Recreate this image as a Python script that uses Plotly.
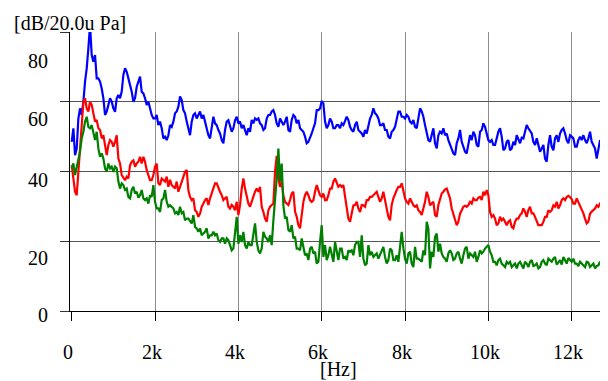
import plotly.graph_objects as go

# Frequency grid of the spectrum (Hz), 40 Hz bins
FREQ = list(range(0, 12921, 40))

# Levels (dB re 20 uPa)
BLUE = [
    48.5, 52.4, 44.7, 46.6, 55.2, 58.1, 56.2, 60.0, 65.8, 69.6, 75.3, 82.0, 73.4, 71.5, 73.4, 66.7, 66.7, 65.8, 63.8, 61.0, 56.2, 57.2, 59.1, 61.0, 60.0, 58.1, 57.1, 61.0, 61.9, 61.0, 62.9, 67.7, 69.6, 68.6, 66.7, 64.8, 62.9, 60.0, 61.0, 64.3, 65.8, 67.2, 62.9, 62.4, 61.0, 59.1, 60.0, 57.6, 56.2, 55.2, 55.2, 56.2, 53.3, 54.3,
    52.4, 49.5, 50.0, 49.0, 50.4, 53.3, 52.8, 54.3, 56.7, 57.2, 58.6, 61.5, 60.5, 57.6, 56.7, 54.3, 51.9, 50.4, 54.3, 56.2, 56.7, 55.2, 56.2, 57.2, 55.2, 56.2, 54.3, 52.4, 50.4, 49.5, 53.3, 55.7, 53.8, 53.3, 51.9, 50.9, 49.0, 48.1, 51.9, 54.3, 54.7, 53.3, 51.4, 52.4, 54.7, 55.7, 53.8, 54.3, 52.4, 53.3, 51.9, 50.4, 52.4, 51.4,
    54.8, 53.8, 55.2, 54.8, 55.2, 53.8, 53.3, 51.9, 52.4, 55.2, 56.2, 56.2, 57.2, 57.6, 56.2, 53.8, 52.8, 55.2, 54.3, 53.3, 54.3, 55.7, 51.9, 51.4, 54.8, 56.2, 55.7, 53.8, 54.8, 52.4, 51.9, 51.4, 50.0, 48.1, 48.5, 49.5, 50.9, 52.4, 53.8, 57.6, 57.6, 58.1, 60.2, 59.5, 54.3, 52.4, 53.3, 55.2, 54.3, 52.4, 52.4, 53.3, 53.3, 52.4,
    53.8, 53.3, 54.3, 55.7, 54.8, 52.8, 51.9, 51.4, 53.3, 54.3, 51.9, 51.4, 50.9, 50.0, 51.9, 50.9, 53.3, 55.2, 56.2, 58.1, 56.7, 56.2, 55.2, 53.3, 53.3, 53.8, 51.9, 51.9, 50.0, 49.5, 51.4, 51.9, 52.8, 55.2, 57.2, 57.2, 55.7, 55.7, 55.2, 56.2, 55.7, 54.3, 53.8, 54.8, 52.8, 52.4, 55.2, 58.1, 57.2, 55.7, 53.3, 51.4, 49.0, 48.5,
    50.9, 52.4, 48.1, 46.6, 50.4, 51.4, 50.9, 52.4, 50.4, 50.9, 49.0, 47.6, 46.1, 45.2, 44.7, 48.1, 49.5, 51.9, 48.5, 47.1, 45.7, 45.2, 48.5, 50.4, 49.0, 51.4, 50.4, 47.6, 47.1, 51.4, 51.9, 53.8, 52.8, 50.4, 49.0, 48.5, 49.0, 47.6, 47.6, 49.5, 51.4, 52.4, 50.0, 46.1, 46.6, 48.5, 49.0, 46.1, 46.6, 48.5, 47.6, 50.4, 49.3, 48.1,
    49.7, 49.5, 51.4, 53.3, 52.4, 51.4, 50.9, 48.5, 47.6, 49.5, 47.6, 45.7, 46.6, 47.6, 43.7, 42.8, 47.6, 50.4, 47.1, 46.1, 49.5, 50.4, 48.5, 50.9, 51.9, 52.4, 50.9, 49.0, 48.1, 50.4, 50.0, 49.5, 47.1, 47.1, 49.0, 50.0, 49.0, 50.4, 49.0, 48.1, 49.5, 51.4, 48.5, 47.6, 46.6, 43.7, 47.1, 49.0, 48.1, 46.6, 46.1, 47.6, 46.6, 46.1,
]
RED = [
    41.8, 38.0, 34.2, 33.2, 39.9, 47.1, 53.3, 60.0, 61.0, 58.1, 57.2, 60.0, 59.1, 56.7, 54.3, 54.8, 52.4, 51.9, 49.5, 50.4, 47.6, 44.7, 47.6, 49.0, 48.5, 47.1, 48.5, 50.4, 43.7, 42.3, 39.0, 38.0, 37.5, 38.5, 38.0, 41.8, 42.8, 43.2, 41.4, 42.3, 42.8, 44.2, 42.3, 44.2, 42.8, 40.4, 39.0, 37.5, 37.5, 39.0, 41.4, 42.3, 36.6, 36.1,
    38.0, 37.5, 37.1, 38.5, 35.6, 37.6, 36.1, 35.6, 35.1, 37.1, 34.2, 35.6, 37.1, 38.5, 39.9, 40.4, 34.6, 32.7, 31.8, 32.3, 28.9, 28.4, 27.0, 27.9, 29.9, 30.8, 31.8, 32.3, 30.4, 32.3, 33.7, 35.6, 36.6, 36.6, 35.1, 34.2, 33.2, 31.8, 32.3, 32.7, 29.9, 29.4, 30.4, 29.9, 28.9, 31.3, 27.5, 30.4, 35.1, 38.0, 35.1, 33.2, 30.8, 29.9,
    31.3, 33.2, 34.2, 35.1, 34.2, 35.6, 29.9, 28.4, 26.5, 25.6, 28.9, 29.9, 30.4, 30.8, 40.0, 44.5, 38.0, 35.6, 37.1, 33.2, 31.3, 30.8, 30.4, 31.8, 33.7, 34.2, 28.5, 27.0, 24.6, 23.7, 28.5, 31.3, 33.2, 34.2, 33.2, 31.8, 31.3, 31.8, 34.2, 36.1, 34.6, 33.2, 32.7, 33.7, 31.8, 31.8, 33.2, 35.1, 35.1, 37.1, 38.0, 36.6, 35.6, 36.1,
    35.6, 36.1, 32.7, 29.4, 26.5, 25.6, 28.5, 30.3, 30.4, 31.3, 29.4, 28.4, 30.4, 30.3, 29.9, 31.8, 31.8, 32.7, 32.7, 33.2, 33.7, 34.2, 32.7, 31.3, 32.3, 34.2, 31.8, 29.4, 27.0, 26.0, 30.4, 32.3, 33.7, 34.7, 35.6, 35.6, 36.6, 34.2, 32.3, 31.3, 30.8, 32.3, 31.3, 30.3, 29.9, 30.3, 28.9, 28.4, 27.5, 29.4, 31.3, 34.2, 32.7, 30.3,
    30.8, 31.3, 27.5, 27.0, 30.4, 32.3, 33.7, 34.2, 34.9, 35.1, 33.7, 32.3, 29.4, 28.0, 26.5, 24.6, 25.6, 27.9, 28.9, 29.9, 30.2, 29.9, 30.4, 31.3, 30.8, 32.3, 31.8, 31.8, 32.5, 32.7, 31.8, 34.2, 33.2, 34.7, 33.2, 28.4, 27.0, 27.5, 26.5, 24.6, 25.1, 27.0, 26.0, 26.5, 25.6, 24.6, 25.6, 26.0, 24.1, 23.7, 25.6, 26.5, 26.5, 27.5,
    28.0, 29.4, 28.5, 27.0, 28.9, 29.9, 28.0, 28.0, 27.0, 26.0, 24.6, 24.6, 24.6, 25.6, 27.0, 27.0, 28.9, 28.4, 28.9, 30.3, 29.9, 31.3, 29.4, 30.3, 31.8, 32.3, 31.8, 32.7, 33.0, 32.7, 32.1, 30.8, 30.8, 32.3, 31.3, 29.9, 28.9, 28.0, 26.5, 25.1, 25.6, 27.9, 28.5, 28.9, 29.4, 30.3, 29.9, 30.8, 30.5, 30.3, 30.2, 31.3, 30.8, 30.8,
]
GREEN = [
    40.9, 42.3, 39.0, 41.4, 43.7, 45.7, 49.5, 51.4, 54.3, 55.7, 52.8, 52.4, 53.3, 50.9, 49.0, 51.4, 46.6, 44.2, 45.2, 43.7, 40.9, 39.9, 42.3, 40.9, 41.4, 39.9, 41.4, 40.9, 37.1, 35.1, 36.6, 36.1, 34.7, 35.1, 32.7, 32.3, 34.7, 35.6, 33.7, 34.2, 32.5, 33.2, 34.7, 32.3, 31.8, 32.3, 30.8, 33.2, 32.7, 36.1, 31.3, 29.4, 29.4, 28.4,
    31.8, 32.3, 34.7, 31.3, 29.9, 30.3, 29.9, 29.4, 28.0, 28.4, 27.5, 29.9, 28.0, 28.4, 26.0, 26.5, 26.5, 25.6, 25.1, 27.5, 24.1, 23.7, 22.7, 23.7, 21.7, 22.2, 22.7, 23.7, 20.8, 21.7, 21.7, 22.7, 21.7, 22.2, 20.3, 19.8, 20.8, 20.8, 19.3, 20.8, 20.3, 18.9, 17.4, 17.9, 23.6, 27.0, 19.3, 21.7, 19.8, 22.7, 18.9, 17.9, 19.8, 18.9,
    18.9, 21.7, 25.1, 19.8, 17.4, 16.5, 17.9, 22.7, 21.3, 20.8, 19.8, 21.7, 18.9, 26.0, 31.3, 38.0, 46.6, 37.1, 42.3, 30.3, 26.5, 27.0, 23.2, 22.7, 24.6, 20.8, 21.3, 17.9, 17.9, 17.4, 20.8, 17.9, 16.0, 16.5, 14.6, 17.9, 18.4, 16.5, 17.0, 13.6, 14.1, 19.8, 24.6, 15.5, 18.9, 14.6, 16.0, 18.4, 16.5, 14.1, 19.8, 17.4, 14.6, 17.9,
    17.9, 15.0, 15.5, 14.6, 17.4, 17.0, 17.4, 16.0, 18.9, 19.8, 19.8, 15.5, 21.7, 15.0, 13.1, 13.6, 18.9, 16.0, 17.0, 15.5, 16.0, 16.5, 15.0, 16.0, 17.0, 18.4, 15.5, 13.6, 14.6, 17.9, 17.4, 14.6, 14.6, 16.0, 14.1, 17.9, 22.7, 18.0, 15.0, 13.6, 16.5, 17.0, 13.6, 12.6, 18.4, 15.0, 15.0, 14.6, 14.1, 17.4, 16.0, 25.6, 23.6, 12.2,
    17.0, 15.5, 21.3, 22.2, 17.0, 19.3, 16.5, 15.5, 15.0, 14.1, 16.5, 17.4, 16.5, 14.6, 15.0, 16.5, 17.0, 15.0, 13.6, 16.0, 17.9, 18.4, 15.0, 16.5, 16.0, 15.5, 17.0, 14.1, 15.5, 17.4, 16.5, 17.0, 17.9, 18.4, 18.9, 17.0, 16.0, 14.1, 14.1, 13.1, 14.6, 15.0, 13.6, 13.1, 12.6, 14.1, 13.6, 14.1, 12.6, 13.1, 13.6, 12.2, 13.6, 14.1,
    13.1, 12.2, 14.1, 13.6, 12.6, 14.1, 14.6, 12.9, 13.1, 13.6, 12.2, 12.6, 14.1, 14.6, 13.6, 13.1, 15.0, 14.6, 14.1, 15.0, 15.5, 13.3, 14.1, 14.6, 13.3, 15.5, 14.6, 13.6, 15.2, 14.6, 14.1, 15.0, 13.6, 13.6, 12.9, 14.1, 13.6, 13.1, 12.6, 14.1, 13.9, 12.6, 13.1, 13.6, 12.2, 12.9, 13.1, 14.1, 13.3, 12.6, 12.2, 13.6, 12.9, 13.3,
]

X_TICKS = [0, 2000, 4000, 6000, 8000, 10000, 12000]
X_TICK_TEXT = ["0", "2k", "4k", "6k", "8k", "10k", "12k"]
Y_TICKS = [0, 20, 40, 60, 80]
Y_TICK_TEXT = ["0", "20", "40", "60", "80"]

FONT = dict(family="Liberation Serif, Times New Roman, Times, serif", size=20, color="black")

fig = go.Figure()
for vals, col in [(BLUE, "#0000ff"), (RED, "#ff0000"), (GREEN, "#008000")]:
    fig.add_trace(go.Scatter(x=FREQ[:len(vals)], y=vals, mode="lines",
                             line=dict(color=col, width=2.2), hoverinfo="skip"))

# The page has an 8px body margin, so the figure is drawn 8px smaller
OFF = 8
W, H = 608 - OFF, 381 - OFF
L, R, T, B = 70 - OFF, 0, 32 - OFF, 381 - 311
pw, ph = W - L - R, H - T - B


def px2paper(px, py):
    px -= OFF
    py -= OFF
    return (px - L) / pw, (H - B - py) / ph


annotations = []
for v, t in zip(X_TICKS, X_TICK_TEXT):
    annotations.append(dict(x=v, y=px2paper(0, 352)[1], xref="x", yref="paper",
                            text=t, showarrow=False, font=FONT, xshift=-3.5,
                            xanchor="center", yanchor="middle"))
y_label_pos = [315, 258, 180, 119, 61]
for t, py in zip(Y_TICK_TEXT, y_label_pos):
    xx, yy = px2paper(50, py)
    annotations.append(dict(x=xx, y=yy, xref="paper", yref="paper", text=t,
                            showarrow=False, font=FONT, xanchor="right",
                            yanchor="middle"))
xx, yy = px2paper(338, 381)
annotations.append(dict(x=xx, y=yy, xref="paper", yref="paper", text="[Hz]",
                        showarrow=False, font=FONT, xanchor="center", yanchor="bottom",
                        borderpad=0))
xx, yy = px2paper(12, 23)
annotations.append(dict(x=xx, y=yy, xref="paper", yref="paper", text="[dB/20.0u Pa]",
                        showarrow=False, font=FONT, xanchor="left", yanchor="middle"))

fig.update_layout(
    width=W, height=H,
    margin=dict(l=L, r=R, t=T, b=B, pad=0),
    paper_bgcolor="white", plot_bgcolor="white",
    font=FONT,
    showlegend=False,
    annotations=annotations,
    xaxis=dict(range=[-41, 12871], tickmode="array", tickvals=X_TICKS,
               showticklabels=False, ticks="outside", ticklen=9, tickcolor="black",
               showgrid=False, zeroline=False, showline=True, linecolor="black",
               linewidth=1,
               minor=dict(tickmode="array", tickvals=X_TICKS[1:], showgrid=True,
                          gridcolor="#8c8c8c", gridwidth=1, ticks="")),
    yaxis=dict(range=[0, 80], tickmode="array", tickvals=Y_TICKS,
               showticklabels=False, ticks="outside", ticklen=9, tickcolor="#333333",
               showgrid=False, zeroline=False, showline=True, linecolor="black",
               linewidth=1,
               minor=dict(tickmode="array", tickvals=[20, 40, 60], showgrid=True,
                          gridcolor="#555555", gridwidth=1, ticks="")),
)

fig.write_html("out.html")
